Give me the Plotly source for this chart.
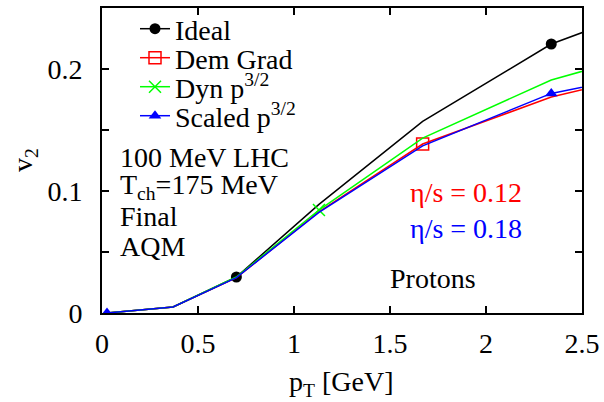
import plotly.graph_objects as go

# ---- data ----
pt = [0.026, 0.37, 0.70, 1.13, 1.67, 2.34, 3.0]
v2_ideal = [0.0, 0.005, 0.0295, 0.089, 0.157, 0.2205, 0.259]
v2_demgrad = [0.0, 0.005, 0.029, 0.083, 0.1385, 0.177, 0.202]
v2_dyn = [0.0, 0.005, 0.0295, 0.0844, 0.1434, 0.191, 0.220]
v2_scaled = [0.0, 0.005, 0.029, 0.0825, 0.137, 0.180, 0.2006]

# indices of points that carry a symbol
mk_ideal = [2, 5]
mk_demgrad = [4]
mk_dyn = [3]
mk_scaled = [0, 5]

names = ["Ideal", "Dem Grad", "Dyn p<sup>3/2</sup>", "Scaled p<sup>3/2</sup>"]
x_ticks = [0, 0.5, 1, 1.5, 2, 2.5]
x_ticktext = ["0", "0.5", "1", "1.5", "2", "2.5"]
y_ticks = [0, 0.05, 0.1, 0.15, 0.2, 0.25]
y_ticktext = ["0", "", "0.1", "", "0.2", ""]

FONT = "Liberation Serif"
FS = 28
GREEN = "#00ff00"

series = [
    (names[0], v2_ideal, mk_ideal, "black",
     dict(symbol="circle", size=11, color="black")),
    (names[1], v2_demgrad, mk_demgrad, "red",
     dict(symbol="square-open", size=12, color="red", line=dict(color="red", width=1.5))),
    (names[2], v2_dyn, mk_dyn, GREEN,
     dict(symbol="x-thin", size=12, color=GREEN, line=dict(color=GREEN, width=1.5))),
    (names[3], v2_scaled, mk_scaled, "blue",
     dict(symbol="triangle-up", size=11, color="blue")),
]

fig = go.Figure()
legend_ids = ["legend", "legend2", "legend3", "legend4"]
for i, (name, ys, idx, col, mk) in enumerate(series):
    fig.add_trace(go.Scatter(x=pt, y=ys, mode="lines",
                             line=dict(color=col, width=1.5), showlegend=False))
    fig.add_trace(go.Scatter(x=[pt[j] for j in idx], y=[ys[j] for j in idx],
                             mode="markers", marker=mk, showlegend=False))
    fig.add_trace(go.Scatter(x=[None], y=[None], mode="lines+markers", name=name,
                             line=dict(color=col, width=1.5), marker=mk,
                             legend=legend_ids[i]))

axis_common = dict(showline=True, linecolor="black", linewidth=2, mirror="allticks",
                   ticks="inside", ticklen=7, tickwidth=1.5, tickcolor="black",
                   showgrid=False, zeroline=False,
                   tickfont=dict(family=FONT, size=FS, color="black"))

fig.update_xaxes(range=[0, 2.5], tickvals=x_ticks, ticktext=x_ticktext,
                 ticklabelstandoff=4, **axis_common)
fig.update_yaxes(range=[0, 0.25], tickvals=y_ticks, ticktext=y_ticktext,
                 ticklabelstandoff=12, **axis_common)

leg_rows = [29, 58, 87, 116]
H = 305.0
layout_legends = {}
for lid, py in zip(legend_ids, leg_rows):
    layout_legends[lid] = dict(x=(135 - 102) / 480.0, y=(313 - py) / H,
                               xanchor="left", yanchor="middle",
                               bgcolor="rgba(0,0,0,0)", borderwidth=0,
                               font=dict(family=FONT, size=FS, color="black"))

annots = []
def add_text(text, px, py, color="black", anchor="left"):
    annots.append(dict(text=text, x=(px - 102) / 480.0, y=(313 - py) / H,
                       xref="paper", yref="paper", xanchor=anchor, yanchor="middle",
                       showarrow=False, font=dict(family=FONT, size=FS, color=color)))

add_text("100 MeV LHC", 118, 157)
add_text("T<sub>ch</sub>=175 MeV", 118, 186)
add_text("Final", 118, 216)
add_text("AQM", 118, 246)
add_text("η/s = 0.12", 408, 192, color="red")
add_text("η/s = 0.18", 408, 228, color="blue")
add_text("Protons", 388, 278)
add_text("p<sub>T</sub> [GeV]", 341, 383, anchor="center")
annots.append(dict(text="v<sub>2</sub>", x=(24 - 102) / 480.0, y=(313 - 160) / H,
                   xref="paper", yref="paper", xanchor="center", yanchor="middle",
                   textangle=-90, showarrow=False,
                   font=dict(family=FONT, size=FS, color="black")))

fig.update_layout(width=604, height=402,
                  margin=dict(l=102, r=22, t=8, b=89, autoexpand=False),
                  paper_bgcolor="white", plot_bgcolor="white",
                  annotations=annots, **layout_legends)

fig.write_html("out.html")
